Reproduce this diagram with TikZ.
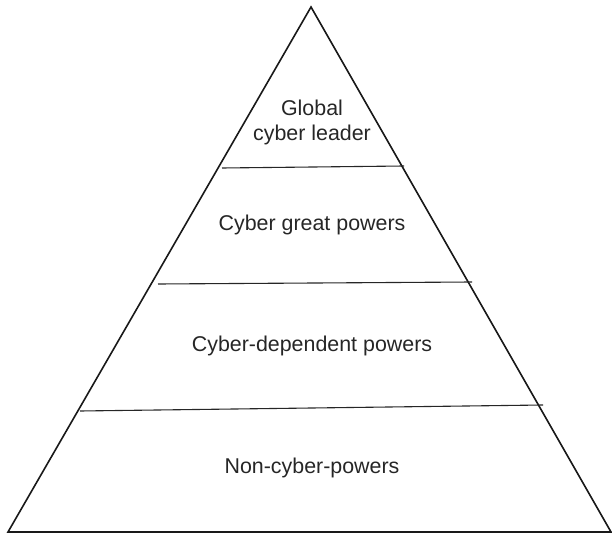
\documentclass[tikz,border=0pt]{standalone}
\usepackage{fontspec}
\setmainfont{Liberation Sans}
\begin{document}
\begin{tikzpicture}[x=1pt,y=-1pt,
  tri/.style={draw=black!90,line width=1.6pt,line join=miter},
  tier/.style={draw=black!85,line width=1.1pt},
  lbl/.style={font=\fontsize{21.4}{25}\selectfont,align=center,text=black!85,inner sep=0pt}]
\useasboundingbox (0,0) rectangle (612,534);
\coordinate (apex) at (311,7);
\coordinate (bl) at (8,532);
\coordinate (br) at (611,532);
\draw[tri] (apex) -- (bl) -- (br) -- cycle;
\coordinate (a1) at (222,168); \coordinate (b1) at (404,166);
\coordinate (a2) at (158,284); \coordinate (b2) at (472,282);
\coordinate (a3) at (80,411);  \coordinate (b3) at (543,405);
\draw[tier] (a1) -- (b1);
\draw[tier] (a2) -- (b2);
\draw[tier] (a3) -- (b3);
\node[lbl] (t1) at (312,122) {Global\\cyber leader};
\node[lbl] (t2) at (312,225) {Cyber great powers};
\node[lbl] (t3) at (312,346) {Cyber-dependent powers};
\node[lbl] (t4) at (312,468) {Non-cyber-powers};
\end{tikzpicture}
\end{document}
